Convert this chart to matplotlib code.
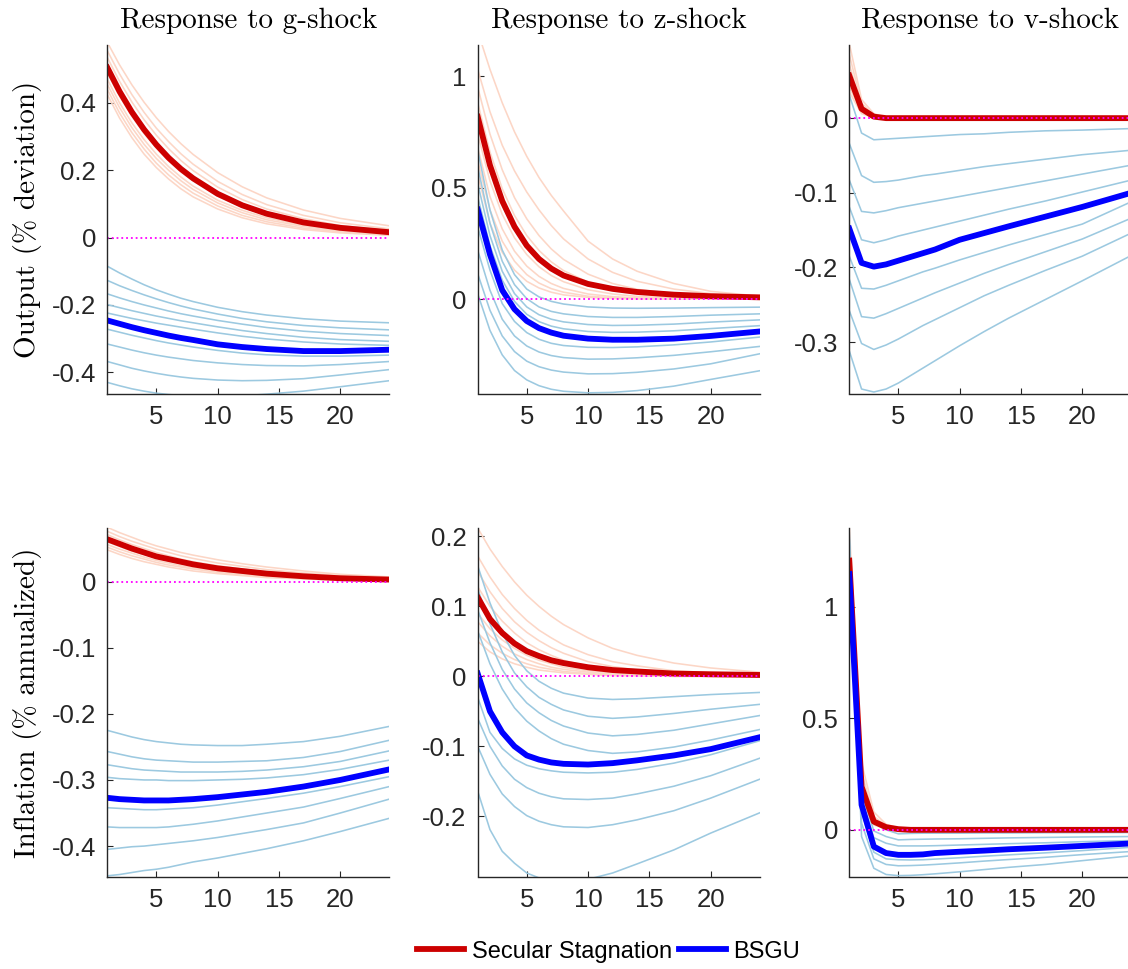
import matplotlib
matplotlib.use('Agg')
import matplotlib.pyplot as plt

T = [1, 2, 3, 4, 5, 6, 7, 8, 10, 12, 14, 17, 20, 24]

# ---------- g-shock, output
g_out_ss = [.505, .434, .373, .321, .276, .237, .204, .176, .130, .096, .071, .045, .029, .016]
g_out_bsgu = [-.246, -.256, -.266, -.275, -.283, -.291, -.298, -.304, -.317, -.325, -.331, -.337, -.337, -.333]
g_out_ss_draws = [
    [.580, .513, .454, .402, .356, .315, .279, .247, .193, .151, .118, .082, .057, .035],
    [.555, .486, .425, .372, .325, .285, .249, .218, .167, .128, .098, .066, .044, .026],
    [.535, .464, .403, .350, .304, .264, .229, .199, .150, .113, .085, .056, .036, .021],
    [.490, .420, .361, .309, .266, .228, .195, .168, .123, .091, .067, .042, .027, .014],
    [.470, .400, .341, .291, .248, .211, .180, .153, .111, .081, .059, .036, .022, .012],
    [.455, .386, .327, .277, .235, .200, .169, .143, .103, .074, .053, .033, .020, .010],
    [.440, .370, .312, .263, .221, .186, .157, .132, .094, .066, .047, .028, .017, .008],
    [.425, .355, .297, .248, .208, .174, .145, .121, .085, .059, .041, .024, .014, .007],
]
g_out_bsgu_draws = [
    [-.085, -.105, -.123, -.140, -.155, -.168, -.180, -.190, -.207, -.220, -.230, -.241, -.248, -.253],
    [-.127, -.143, -.157, -.170, -.182, -.193, -.203, -.212, -.227, -.240, -.250, -.261, -.268, -.274],
    [-.167, -.179, -.190, -.200, -.209, -.218, -.226, -.233, -.246, -.257, -.267, -.278, -.285, -.291],
    [-.199, -.208, -.217, -.225, -.233, -.240, -.247, -.253, -.265, -.276, -.285, -.296, -.303, -.308],
    [-.224, -.232, -.240, -.247, -.254, -.260, -.266, -.272, -.283, -.293, -.301, -.310, -.316, -.320],
    [-.272, -.281, -.290, -.298, -.306, -.313, -.319, -.325, -.335, -.343, -.348, -.352, -.352, -.349],
    [-.316, -.325, -.334, -.342, -.349, -.355, -.360, -.365, -.372, -.377, -.380, -.381, -.377, -.368],
    [-.368, -.378, -.388, -.396, -.403, -.409, -.414, -.418, -.423, -.425, -.424, -.419, -.408, -.392],
    [-.430, -.440, -.449, -.456, -.462, -.466, -.469, -.471, -.472, -.470, -.465, -.456, -.443, -.425],
]

# ---------- z-shock, output
z_out_ss = [.817, .600, .440, .325, .240, .180, .137, .106, .068, .046, .032, .020, .013, .008]
z_out_bsgu = [.401, .200, .040, -.045, -.098, -.130, -.150, -.164, -.177, -.182, -.182, -.177, -.165, -.145]
z_out_ss_draws = [
    [1.20, 1.03, .880, .750, .640, .545, .465, .395, .260, .180, .125, .070, .035, .013],
    [1.03, .840, .690, .575, .480, .400, .330, .270, .180, .120, .080, .045, .025, .010],
    [.950, .740, .580, .455, .360, .285, .225, .178, .112, .070, .044, .022, .011, .004],
    [.880, .660, .495, .375, .285, .218, .167, .128, .076, .045, .027, .012, .006, .002],
    [.740, .530, .380, .275, .200, .145, .106, .078, .042, .023, .012, .005, .002, .001],
    [.680, .460, .315, .215, .148, .102, .070, .048, .023, .011, .005, .002, .001, .000],
    [.620, .400, .260, .170, .110, .072, .047, .031, .013, .006, .003, .001, .000, .000],
    [.560, .340, .210, .130, .080, .050, .031, .019, .008, .003, .001, .000, .000, .000],
]
z_out_bsgu_draws = [
    [.668, .400, .220, .110, .045, .010, -.010, -.022, -.035, -.040, -.041, -.040, -.038, -.036],
    [.593, .340, .170, .065, .002, -.035, -.055, -.066, -.078, -.082, -.082, -.078, -.072, -.066],
    [.518, .285, .125, .025, -.035, -.070, -.090, -.102, -.114, -.118, -.117, -.112, -.103, -.093],
    [.458, .240, .085, -.010, -.068, -.101, -.121, -.133, -.145, -.149, -.148, -.142, -.132, -.119],
    [.323, .130, -.020, -.100, -.150, -.180, -.198, -.208, -.216, -.217, -.214, -.205, -.192, -.170],
    [.219, .040, -.090, -.165, -.210, -.237, -.253, -.262, -.269, -.268, -.263, -.252, -.236, -.212],
    [.114, -.050, -.165, -.235, -.278, -.303, -.318, -.327, -.335, -.334, -.328, -.313, -.290, -.245],
    [.024, -.140, -.250, -.320, -.362, -.388, -.404, -.413, -.420, -.418, -.410, -.390, -.360, -.321],
]

# ---------- v-shock, output
v_out_ss = [.057, .0125, .002, 0, 0, 0, 0, 0, 0, 0, 0, 0, 0, 0]
v_out_bsgu = [-.148, -.194, -.199, -.196, -.191, -.186, -.181, -.176, -.163, -.154, -.145, -.132, -.119, -.100]
v_out_ss_draws = [
    [.100, .025, .006, .001, 0, 0, 0, 0, 0, 0, 0, 0, 0, 0],
    [.085, .020, .005, .001, 0, 0, 0, 0, 0, 0, 0, 0, 0, 0],
    [.072, .016, .004, .001, 0, 0, 0, 0, 0, 0, 0, 0, 0, 0],
    [.050, .010, .002, 0, 0, 0, 0, 0, 0, 0, 0, 0, 0, 0],
    [.042, .008, .002, 0, 0, 0, 0, 0, 0, 0, 0, 0, 0, 0],
    [.035, .006, .001, 0, 0, 0, 0, 0, 0, 0, 0, 0, 0, 0],
]
v_out_bsgu_draws = [
    [.031, -.020, -.029, -.028, -.027, -.026, -.025, -.024, -.022, -.021, -.019, -.017, -.016, -.014],
    [-.034, -.077, -.086, -.085, -.083, -.080, -.077, -.075, -.070, -.065, -.061, -.055, -.049, -.043],
    [-.083, -.125, -.127, -.124, -.120, -.117, -.114, -.111, -.105, -.099, -.093, -.084, -.075, -.063],
    [-.119, -.163, -.167, -.163, -.158, -.154, -.150, -.146, -.138, -.130, -.122, -.111, -.099, -.083],
    [-.185, -.228, -.229, -.224, -.218, -.212, -.206, -.201, -.190, -.180, -.170, -.156, -.142, -.112],
    [-.216, -.266, -.268, -.262, -.255, -.248, -.241, -.234, -.221, -.208, -.196, -.179, -.162, -.134],
    [-.258, -.302, -.310, -.304, -.296, -.287, -.278, -.270, -.254, -.238, -.224, -.204, -.185, -.154],
    [-.312, -.363, -.367, -.363, -.355, -.345, -.335, -.325, -.305, -.286, -.268, -.243, -.218, -.184],
]

# ---------- g-shock, inflation
g_inf_ss = [.064, .057, .050, .044, .038, .034, .030, .026, .020, .016, .012, .008, .005, .003]
g_inf_bsgu = [-.327, -.329, -.330, -.331, -.331, -.331, -.330, -.329, -.326, -.322, -.318, -.310, -.300, -.284]
g_inf_ss_draws = [
    [.082, .074, .067, .060, .054, .049, .044, .040, .033, .027, .022, .016, .011, .007],
    [.076, .068, .061, .055, .049, .044, .039, .035, .028, .023, .018, .013, .009, .005],
    [.071, .063, .056, .050, .044, .039, .034, .030, .024, .019, .015, .010, .007, .004],
    [.060, .053, .046, .041, .036, .031, .027, .024, .018, .014, .011, .007, .004, .002],
    [.056, .049, .043, .037, .032, .028, .024, .021, .016, .012, .009, .006, .003, .002],
    [.052, .045, .039, .034, .029, .025, .022, .019, .014, .010, .008, .005, .003, .001],
    [.048, .041, .035, .030, .026, .022, .019, .016, .012, .009, .006, .004, .002, .001],
]
g_inf_bsgu_draws = [
    [-.225, -.230, -.235, -.239, -.242, -.244, -.246, -.247, -.248, -.248, -.246, -.242, -.234, -.219],
    [-.257, -.261, -.265, -.268, -.270, -.271, -.272, -.273, -.273, -.272, -.271, -.266, -.257, -.240],
    [-.277, -.280, -.283, -.285, -.286, -.287, -.288, -.288, -.288, -.287, -.285, -.280, -.272, -.256],
    [-.296, -.298, -.299, -.300, -.300, -.301, -.301, -.301, -.300, -.299, -.297, -.292, -.284, -.270],
    [-.342, -.343, -.344, -.345, -.345, -.344, -.343, -.342, -.338, -.333, -.328, -.320, -.310, -.295],
    [-.371, -.372, -.372, -.372, -.372, -.371, -.369, -.367, -.362, -.356, -.350, -.341, -.328, -.310],
    [-.405, -.403, -.401, -.400, -.398, -.396, -.394, -.392, -.387, -.381, -.375, -.365, -.350, -.329],
    [-.445, -.443, -.440, -.437, -.435, -.432, -.428, -.424, -.418, -.411, -.404, -.392, -.378, -.358],
]

# ---------- z-shock, inflation
z_inf_ss = [.113, .082, .062, .047, .036, .029, .023, .019, .013, .009, .007, .004, .003, .002]
z_inf_bsgu = [.004, -.050, -.080, -.100, -.113, -.119, -.123, -.125, -.126, -.124, -.120, -.113, -.104, -.087]
z_inf_ss_draws = [
    [.212, .182, .157, .135, .116, .100, .086, .074, .055, .040, .030, .019, .012, .006],
    [.172, .142, .117, .097, .080, .066, .055, .045, .031, .021, .015, .008, .005, .002],
    [.150, .121, .097, .078, .063, .051, .041, .033, .021, .014, .009, .005, .002, .001],
    [.128, .100, .079, .062, .048, .038, .030, .023, .014, .009, .005, .002, .001, .000],
    [.090, .068, .052, .040, .030, .023, .018, .013, .008, .005, .003, .001, .000, .000],
    [.078, .058, .043, .032, .024, .018, .013, .010, .006, .003, .002, .001, .000, .000],
    [.062, .045, .033, .024, .018, .013, .010, .007, .004, .002, .001, .000, .000, .000],
    [.050, .035, .025, .018, .013, .009, .007, .005, .003, .001, .001, .000, .000, .000],
]
z_inf_bsgu_draws = [
    [.158, .105, .062, .030, .008, -.007, -.017, -.024, -.031, -.033, -.032, -.029, -.026, -.023],
    [.125, .075, .035, .005, -.015, -.030, -.040, -.048, -.057, -.060, -.058, -.053, -.047, -.040],
    [.095, .048, .010, -.018, -.038, -.052, -.063, -.071, -.081, -.085, -.083, -.077, -.068, -.056],
    [.065, .018, -.018, -.045, -.064, -.078, -.089, -.097, -.106, -.110, -.108, -.101, -.091, -.076],
    [-.030, -.080, -.103, -.118, -.127, -.132, -.135, -.137, -.138, -.137, -.133, -.124, -.112, -.092],
    [-.060, -.100, -.128, -.147, -.159, -.167, -.172, -.175, -.176, -.174, -.168, -.157, -.142, -.117],
    [-.100, -.140, -.168, -.186, -.199, -.207, -.212, -.215, -.216, -.212, -.205, -.192, -.174, -.147],
    [-.164, -.219, -.250, -.267, -.281, -.288, -.291, -.292, -.290, -.281, -.268, -.248, -.224, -.195],
]

# ---------- v-shock, inflation
v_inf_ss = [1.206, .194, .037, .012, .003, 0, 0, 0, 0, 0, 0, 0, 0, 0]
v_inf_bsgu = [1.146, .112, -.075, -.104, -.112, -.112, -.110, -.104, -.098, -.093, -.087, -.080, -.072, -.061]
v_inf_ss_draws = [
    [1.36, .300, .080, .025, .008, .003, .001, 0, 0, 0, 0, 0, 0, 0],
    [1.30, .260, .060, .018, .005, .002, .001, 0, 0, 0, 0, 0, 0, 0],
    [1.25, .220, .045, .012, .003, .001, 0, 0, 0, 0, 0, 0, 0, 0],
    [1.15, .170, .030, .007, .002, 0, 0, 0, 0, 0, 0, 0, 0, 0],
    [1.10, .140, .022, .004, .001, 0, 0, 0, 0, 0, 0, 0, 0, 0],
]
v_inf_bsgu_draws = [
    [1.05, .200, .030, .000, -.018, -.016, -.015, -.015, -.015, -.014, -.014, -.013, -.013, -.012],
    [1.10, .170, -.005, -.030, -.045, -.043, -.042, -.041, -.040, -.038, -.036, -.034, -.032, -.030],
    [1.20, .140, -.035, -.060, -.072, -.072, -.072, -.071, -.068, -.065, -.062, -.058, -.053, -.048],
    [1.25, .080, -.100, -.130, -.134, -.135, -.134, -.131, -.125, -.118, -.112, -.103, -.093, -.078],
    [1.30, .030, -.130, -.155, -.161, -.160, -.158, -.155, -.148, -.140, -.133, -.123, -.111, -.097],
    [1.33, -.030, -.172, -.200, -.205, -.204, -.201, -.197, -.188, -.178, -.168, -.155, -.138, -.116],
]

titles = ['Response to g-shock', 'Response to z-shock', 'Response to v-shock']
row_labels = ['Output (% deviation)', 'Inflation (% annualized)']
legend_labels = ['Secular Stagnation', 'BSGU']

panels = [
    (g_out_ss, g_out_bsgu, g_out_ss_draws, g_out_bsgu_draws, (-0.463, 0.572), [-0.4, -0.2, 0, 0.2, 0.4], ['-0.4', '-0.2', '0', '0.2', '0.4']),
    (z_out_ss, z_out_bsgu, z_out_ss_draws, z_out_bsgu_draws, (-0.423, 1.139), [0, 0.5, 1], ['0', '0.5', '1']),
    (v_out_ss, v_out_bsgu, v_out_ss_draws, v_out_bsgu_draws, (-0.369, 0.098), [-0.3, -0.2, -0.1, 0], ['-0.3', '-0.2', '-0.1', '0']),
    (g_inf_ss, g_inf_bsgu, g_inf_ss_draws, g_inf_bsgu_draws, (-0.446, 0.081), [-0.4, -0.3, -0.2, -0.1, 0], ['-0.4', '-0.3', '-0.2', '-0.1', '0']),
    (z_inf_ss, z_inf_bsgu, z_inf_ss_draws, z_inf_bsgu_draws, (-0.286, 0.212), [-0.2, -0.1, 0, 0.1, 0.2], ['-0.2', '-0.1', '0', '0.1', '0.2']),
    (v_inf_ss, v_inf_bsgu, v_inf_ss_draws, v_inf_bsgu_draws, (-0.209, 1.352), [0, 0.5, 1], ['0', '0.5', '1']),
]

W, H = 1128, 969
fig = plt.figure(figsize=(W / 100, H / 100), dpi=100)

col_left = [107.3, 477.7, 849.3]
ax_w = 282.0
row_top = [45, 528]
ax_h = 348.5
axis_gray = '#262626'
light_red = '#FCD6C6'
light_blue = '#9CC9E0'

handles = None
for i, (ss, bsgu, ss_draws, bsgu_draws, ylim, yt, ytl) in enumerate(panels):
    r, c = divmod(i, 3)
    ax = fig.add_axes([col_left[c] / W, 1 - (row_top[r] + ax_h) / H, ax_w / W, ax_h / H])
    for d in ss_draws:
        ax.plot(T, d, color=light_red, lw=1.15)
    for d in bsgu_draws:
        ax.plot(T, d, color=light_blue, lw=1.15)
    h1, = ax.plot(T, ss, color='#CC0000', lw=4.2)
    h2, = ax.plot(T, bsgu, color='#0000FF', lw=4.2)
    ax.axhline(0, color='#FF00FF', ls=':', lw=1.3)
    if handles is None:
        handles = [h1, h2]

    ax.set_xlim(1, 24)
    ax.set_ylim(*ylim)
    ax.set_xticks([5, 10, 15, 20])
    ax.set_yticks(yt)
    ax.set_yticklabels(ytl)
    ax.tick_params(direction='in', length=4, width=0.8, colors=axis_gray,
                   labelsize=18.5, pad=8)
    for lab in ax.get_xticklabels() + ax.get_yticklabels():
        lab.set_fontfamily('Liberation Sans')
    for s in ['top', 'right']:
        ax.spines[s].set_visible(False)
    for s in ['left', 'bottom']:
        ax.spines[s].set_color(axis_gray)
        ax.spines[s].set_linewidth(1.0)
    if r == 0:
        ax.set_title(titles[c], fontfamily='cmr10', fontsize=21, pad=12)

for r, lab in enumerate(row_labels):
    fig.text(28 / W, 1 - (row_top[r] + ax_h / 2) / H, lab, rotation=90,
             ha='center', va='center', fontfamily='cmr10', fontsize=21)

fig.legend(handles, legend_labels, loc='center', bbox_to_anchor=(0.5395, 0.018),
           ncol=2, frameon=False, prop={'family': 'Liberation Sans', 'size': 17},
           handlelength=2.0, handletextpad=0.3, columnspacing=0.3)

fig.savefig('out.png', dpi=100)
